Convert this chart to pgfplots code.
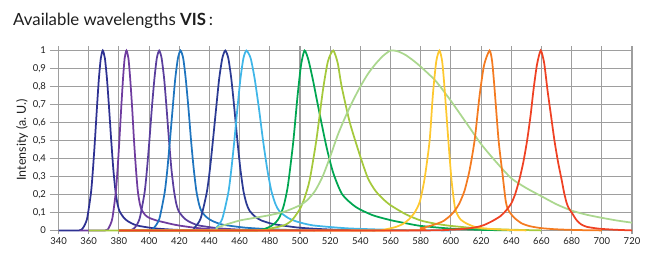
\documentclass[border=0pt]{standalone}
\usepackage{fontspec}
\setmainfont{Lato}
\usepackage{pgfplots}
\pgfplotsset{compat=1.18}
\definecolor{cA}{HTML}{2E3192}
\definecolor{cB}{HTML}{6F3C9F}
\definecolor{cC}{HTML}{5A3E9D}
\definecolor{cD}{HTML}{1F75BF}
\definecolor{cE}{HTML}{2B3A93}
\definecolor{cF}{HTML}{3FB6E8}
\definecolor{cG}{HTML}{00A651}
\definecolor{cH}{HTML}{A5C93C}
\definecolor{cI}{HTML}{ABD78E}
\definecolor{cJ}{HTML}{FEC82F}
\definecolor{cK}{HTML}{F47B20}
\definecolor{cL}{HTML}{EF4123}
\definecolor{gridc}{HTML}{9E9E9E}
\definecolor{txt}{HTML}{1E1E1E}
\begin{document}
\begin{tikzpicture}[x=1pt,y=1pt]
\begin{axis}[
  scale only axis, width=582.5pt, height=188.5pt,
  xmin=334, xmax=720, ymin=-0.02, ymax=1.028,
  axis line style={draw=none}, tick style={draw=none},
  grid=major, grid style={line width=1.1pt, gridc},
  xtick={340,360,...,720},
  ytick={0,0.1,0.2,0.3,0.4,0.5,0.6,0.7,0.8,0.9,1},
  yticklabels={0,{0,1},{0,2},{0,3},{0,4},{0,5},{0,6},{0,7},{0,8},{0,9},1},
  /pgf/number format/assume math mode=true,
  /pgf/number format/1000 sep={},
  ticklabel style={font=\fontsize{9.5}{11}\selectfont, text=txt},
  ylabel={Intensity (a.\ U.)},
  every axis y label/.style={at={(axis description cs:-0.0472,0.5)}, rotate=90, anchor=center, font=\fontsize{12.5}{14}\selectfont, text=txt},
  every axis plot/.append style={line width=1.75pt, smooth, tension=0.4, mark=none},
]
\coordinate (bl) at (rel axis cs:0,0);
\addplot[cA] coordinates {(340,0) (353.7,0) (356.3,0.015) (358.9,0.065) (361.5,0.21) (362.8,0.34) (364.1,0.5) (365.4,0.677) (366.7,0.841) (368.0,0.957) (369.3,1) (370.7,0.957) (372.1,0.841) (373.5,0.677) (374.9,0.5) (376.3,0.34) (377.7,0.22) (379.1,0.145) (380.5,0.105) (383.3,0.07) (386.1,0.05) (391.7,0.028) (402.9,0.012) (414.1,0.005) (425.3,0.001) (440,0)};
\addplot[cB] coordinates {(354,0) (370.9,0) (373.3,0.015) (375.6,0.065) (377.9,0.21) (379.1,0.34) (380.3,0.5) (381.5,0.677) (382.7,0.841) (383.8,0.957) (385,1) (386.3,0.957) (387.5,0.841) (388.8,0.677) (390,0.5) (391.3,0.34) (392.5,0.22) (393.8,0.15) (395,0.115) (397.5,0.085) (400,0.07) (405,0.055) (410,0.045) (415,0.035) (420,0.027) (430,0.015) (440,0.007) (450,0.002) (460,0)};
\addplot[cC] coordinates {(380,0) (387.2,0) (390.5,0.015) (393.7,0.065) (397,0.21) (398.6,0.34) (400.2,0.5) (401.8,0.677) (403.5,0.841) (405.1,0.957) (406.7,1) (408.3,0.957) (410,0.841) (411.6,0.677) (413.2,0.5) (414.8,0.34) (416.5,0.22) (418.1,0.145) (419.7,0.105) (423,0.07) (426.2,0.05) (432.7,0.028) (445.7,0.012) (458.7,0.005) (471.7,0.001) (480,0)};
\addplot[cD] coordinates {(380,0) (399.8,0) (403.3,0.015) (406.8,0.065) (410.3,0.21) (412.1,0.34) (413.8,0.5) (415.6,0.677) (417.3,0.841) (419.1,0.957) (420.8,1) (422.6,0.957) (424.3,0.841) (426.1,0.677) (427.8,0.5) (429.6,0.34) (431.3,0.22) (433.1,0.145) (434.8,0.105) (438.3,0.072) (441.8,0.053) (448.8,0.032) (462.8,0.016) (476.8,0.008) (490.8,0.003) (510,0)};
\addplot[cE] coordinates {(380,0) (425.9,0) (430,0.015) (434.1,0.065) (438.2,0.21) (440.3,0.34) (442.3,0.5) (444.4,0.677) (446.4,0.841) (448.5,0.957) (450.5,1) (452.5,0.957) (454.5,0.841) (456.5,0.677) (458.5,0.5) (460.5,0.34) (462.5,0.22) (464.5,0.15) (466.5,0.11) (470.5,0.075) (474.5,0.055) (482.5,0.035) (498.5,0.016) (514.5,0.007) (530.5,0.002) (550,0)};
\addplot[cF] coordinates {(380,0) (440.5,0) (444.5,0.015) (448.5,0.065) (452.5,0.21) (454.5,0.34) (456.5,0.5) (458.5,0.677) (460.5,0.841) (462.5,0.957) (464.5,1) (467.3,0.957) (470,0.841) (472.8,0.677) (475.5,0.5) (478.3,0.34) (481,0.22) (483.8,0.145) (486.5,0.105) (492,0.07) (497.5,0.05) (508.5,0.028) (530.5,0.012) (552.5,0.005) (574.5,0.001) (600,0)};
\addplot[cG] coordinates {(380,0) (470,0) (475,0.005) (480,0.02) (484,0.045) (486.5,0.075) (489.3,0.14) (492,0.25) (495.5,0.49) (498.4,0.75) (500.7,0.92) (503,1) (505.5,0.95) (508.6,0.835) (512,0.69) (517.4,0.47) (522,0.32) (528,0.2) (537,0.13) (548,0.085) (560,0.057) (570,0.04) (580,0.025) (600,0.01) (620,0.003) (640,0)};
\addplot[cH] coordinates {(360,0) (470,0) (480,0.01) (490,0.03) (495,0.06) (500,0.12) (503,0.18) (506.4,0.28) (510.8,0.5) (515.2,0.78) (518.5,0.94) (522,1) (525,0.93) (527.6,0.8) (533,0.6) (539.6,0.42) (545,0.29) (550,0.22) (555,0.175) (560,0.14) (570,0.09) (580,0.055) (590,0.037) (600,0.025) (620,0.01) (640,0.004) (660,0)};
\addplot[cI] coordinates {(380,0) (440,0) (445,0.015) (450,0.03) (460,0.055) (470,0.07) (480,0.085) (490,0.105) (500,0.14) (505,0.17) (510,0.22) (515,0.3) (520,0.41) (525,0.53) (530,0.63) (535,0.72) (540,0.8) (545,0.87) (550,0.925) (555,0.97) (560,1) (565,0.995) (570,0.975) (575,0.945) (580,0.91) (590,0.83) (600,0.72) (610,0.6) (620,0.48) (630,0.38) (640,0.29) (650,0.235) (660,0.19) (670,0.145) (680,0.11) (690,0.087) (700,0.07) (710,0.055) (720,0.043)};
\addplot[cJ] coordinates {(380,0) (550,0) (555,0.003) (563,0.018) (568,0.035) (572,0.06) (576,0.1) (579.4,0.16) (582.6,0.29) (585.9,0.5) (588.1,0.76) (590.3,0.94) (592.4,1) (594.2,0.94) (595.7,0.8) (598.3,0.5) (600.4,0.28) (602.6,0.13) (604.5,0.085) (606.5,0.06) (610,0.04) (615,0.022) (620,0.013) (630,0.006) (640,0.002) (650,0)};
\addplot[cK] coordinates {(380,0) (570,0) (580,0.012) (584,0.02) (590,0.035) (595,0.052) (600,0.085) (603,0.115) (605.6,0.15) (609,0.22) (612,0.32) (614,0.41) (616,0.52) (619,0.75) (622,0.92) (625.6,1) (627.3,0.94) (628.8,0.8) (631.6,0.5) (634.1,0.32) (636.2,0.17) (637.6,0.12) (639.4,0.096) (642,0.07) (646.7,0.04) (652,0.024) (659.4,0.013) (668,0.007) (676,0.004) (690,0.001) (700,0)};
\addplot[cL] coordinates {(380,0) (580,0) (595,0.003) (606,0.007) (613.5,0.013) (619,0.022) (622,0.03) (627,0.05) (632.6,0.078) (636.5,0.11) (640,0.15) (642.5,0.2) (645.3,0.28) (648,0.38) (650.5,0.5) (652.8,0.64) (654.7,0.78) (657,0.92) (659.5,1) (661.8,0.93) (664,0.78) (666.3,0.64) (668.6,0.5) (671,0.38) (673.4,0.28) (675,0.21) (676.6,0.155) (678,0.125) (680,0.1) (683,0.06) (686,0.035) (690,0.02) (697.7,0.01) (708,0.004) (720,0)};
\end{axis}
\pgfresetboundingbox
\useasboundingbox ([shift={(-49.5,-18)}]bl) rectangle +(650,252);
\node[anchor=base west, inner sep=0pt, font=\fontsize{16.8}{19}\selectfont, text=txt] at ([shift={(-36.5,208)}]bl) {Available wavelengths \textbf{VIS}\,:};
\end{tikzpicture}
\end{document}
